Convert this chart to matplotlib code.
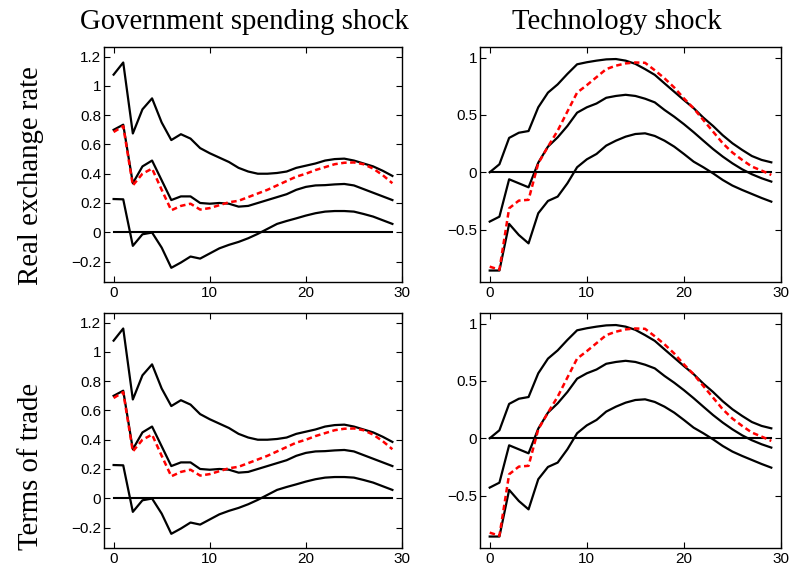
import matplotlib
matplotlib.use("Agg")
import matplotlib.pyplot as plt
import numpy as np

# impulse responses, horizons 0..29
horizon = np.arange(30)

# government spending shock: upper band, median, lower band, point estimate
gov_upper = [1.077, 1.16, 0.675, 0.84, 0.915, 0.75, 0.63, 0.67, 0.64, 0.575,
             0.54, 0.51, 0.48, 0.44, 0.415, 0.40, 0.40, 0.405, 0.415, 0.44,
             0.455, 0.47, 0.49, 0.50, 0.503, 0.49, 0.47, 0.45, 0.42, 0.385]
gov_mid = [0.70, 0.735, 0.335, 0.45, 0.49, 0.355, 0.22, 0.245, 0.245, 0.20,
           0.195, 0.20, 0.195, 0.175, 0.18, 0.20, 0.22, 0.24, 0.26, 0.29,
           0.31, 0.32, 0.322, 0.327, 0.33, 0.32, 0.295, 0.27, 0.245, 0.22]
gov_lower = [0.227, 0.225, -0.093, -0.014, -0.002, -0.105, -0.243, -0.207, -0.166, -0.18,
             -0.145, -0.11, -0.086, -0.066, -0.041, -0.011, 0.023, 0.057, 0.077, 0.095,
             0.114, 0.13, 0.141, 0.145, 0.145, 0.141, 0.125, 0.107, 0.082, 0.057]
gov_point = [0.685, 0.725, 0.32, 0.40, 0.435, 0.29, 0.15, 0.18, 0.195, 0.155,
             0.165, 0.185, 0.205, 0.215, 0.24, 0.265, 0.29, 0.32, 0.35, 0.38,
             0.40, 0.425, 0.445, 0.465, 0.475, 0.477, 0.465, 0.435, 0.39, 0.335]

# technology shock
tech_upper = [0.0, 0.07, 0.30, 0.345, 0.36, 0.567, 0.695, 0.767, 0.858, 0.942,
              0.96, 0.974, 0.985, 0.988, 0.974, 0.946, 0.90, 0.85, 0.776, 0.703,
              0.63, 0.56, 0.477, 0.404, 0.323, 0.253, 0.195, 0.142, 0.108, 0.087]
tech_mid = [-0.43, -0.387, -0.061, -0.096, -0.131, 0.084, 0.224, 0.305, 0.404, 0.52,
            0.567, 0.60, 0.65, 0.666, 0.676, 0.666, 0.642, 0.61, 0.544, 0.485,
            0.42, 0.35, 0.276, 0.203, 0.137, 0.078, 0.026, -0.017, -0.052, -0.081]
tech_lower = [-0.857, -0.857, -0.45, -0.547, -0.62, -0.357, -0.25, -0.212, -0.096, 0.044,
              0.113, 0.16, 0.233, 0.276, 0.311, 0.334, 0.34, 0.317, 0.276, 0.224,
              0.16, 0.093, 0.044, -0.009, -0.067, -0.116, -0.154, -0.189, -0.224, -0.256]
tech_point = [-0.823, -0.85, -0.314, -0.247, -0.24, 0.078, 0.224, 0.363, 0.53, 0.695,
              0.76, 0.83, 0.90, 0.93, 0.95, 0.958, 0.955, 0.89, 0.82, 0.74,
              0.645, 0.558, 0.456, 0.355, 0.253, 0.172, 0.108, 0.05, 0.015, -0.023]

col_titles = ["Government spending shock", "Technology shock"]
row_titles = ["Real exchange rate", "Terms of trade"]

W, H = 790, 567
fig = plt.figure(figsize=(W / 100, H / 100), dpi=100)


def px_axes(x0, y0, x1, y1):
    return fig.add_axes([x0 / W, 1 - y1 / H, (x1 - x0) / W, (y1 - y0) / H])


def draw_panel(ax, upper, mid, lower, point, ylim, yticks, yticklabels):
    ax.plot([0, 29], [0, 0], color="black", lw=1.5)
    for s in (upper, mid, lower):
        ax.plot(horizon, s, color="black", lw=1.6)
    ax.plot(horizon, point, color="red", lw=1.8, ls=(0, (2.2, 1.4)))
    ax.set_xlim(-1, 30)
    ax.set_ylim(*ylim)
    ax.set_xticks([0, 10, 20, 30])
    ax.set_yticks(yticks)
    ax.set_yticklabels(yticklabels)
    ax.tick_params(direction="in", top=True, right=True, length=4, width=0.8,
                   labelsize=11)
    ax.tick_params(axis="x", pad=3)
    ax.tick_params(axis="y", pad=2)
    for lab in ax.get_xticklabels() + ax.get_yticklabels():
        lab.set_family("Liberation Sans")
    for sp in ax.spines.values():
        sp.set_linewidth(1.0)


gov_ticks = [-0.2, 0, 0.2, 0.4, 0.6, 0.8, 1.0, 1.2]
gov_labels = ["\u22120.2", "0", "0.2", "0.4", "0.6", "0.8", "1", "1.2"]
tech_ticks = [-0.5, 0, 0.5, 1.0]
tech_labels = ["\u22120.5", "0", "0.5", "1"]

rows_px = [(47, 282), (313, 548)]
for (top, bot) in rows_px:
    ax_l = px_axes(104, top, 402, bot)
    draw_panel(ax_l, gov_upper, gov_mid, gov_lower, gov_point,
               (-0.34, 1.266), gov_ticks, gov_labels)
    ax_r = px_axes(480, top, 781, bot)
    draw_panel(ax_r, tech_upper, tech_mid, tech_lower, tech_point,
               (-0.957, 1.093), tech_ticks, tech_labels)

fig.text(244 / W, 1 - 22 / H, col_titles[0], ha="center", va="center",
         family="Liberation Serif", fontsize=20.7)
fig.text(617 / W, 1 - 22 / H, col_titles[1], ha="center", va="center",
         family="Liberation Serif", fontsize=20.7)
fig.text(31 / W, 1 - 176 / H, row_titles[0], ha="center", va="center",
         rotation=90, family="Liberation Serif", fontsize=20.7)
fig.text(31 / W, 1 - 466 / H, row_titles[1], ha="center", va="center",
         rotation=90, family="Liberation Serif", fontsize=20.7)

fig.savefig("out.png", dpi=100)
